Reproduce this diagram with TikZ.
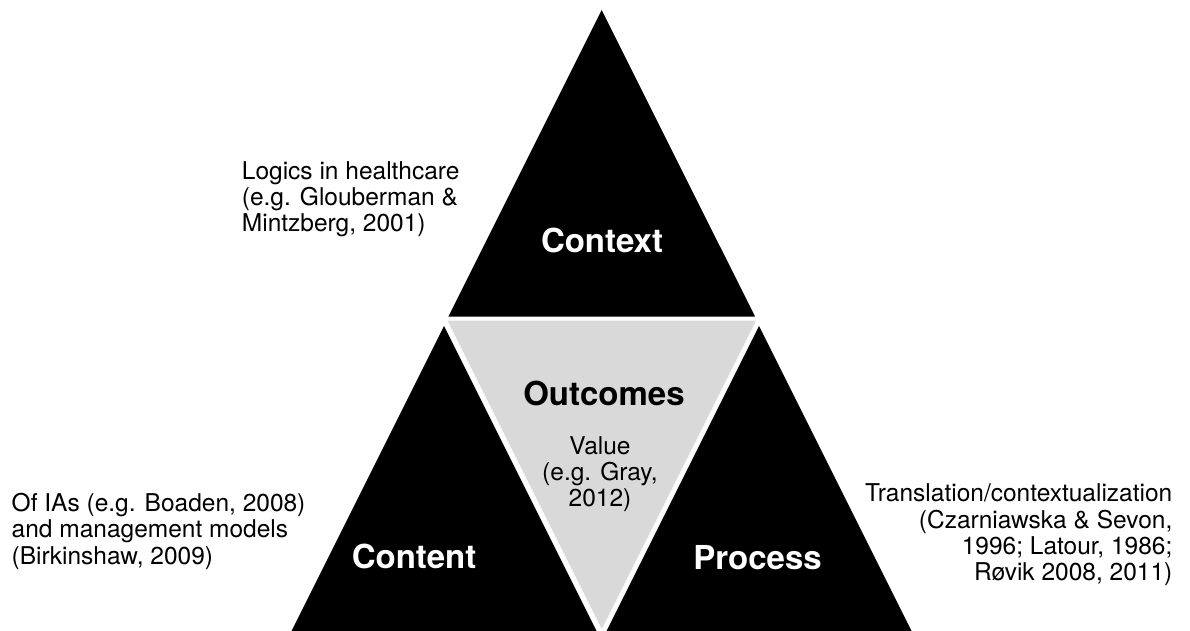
\documentclass[tikz,border=0pt]{standalone}
\usepackage{fontspec}
\setmainfont{TeX Gyre Heros}

\begin{document}
\begin{tikzpicture}
[x=1pt,y=-1pt,
 bt/.style={fill=black},
 gt/.style={fill=black!15},
 hd/.style={font=\fontsize{33}{36}\selectfont\bfseries,inner sep=0pt,anchor=base},
 lb/.style={font=\fontsize{24.5}{26.4}\selectfont,inner sep=0pt}]
\useasboundingbox (0,0) rectangle (1190,631);
\coordinate (T) at (601.7,10);
\path (T) +(-153.4,306.7) coordinate (TL);
\path (T) +(153.4,306.7) coordinate (TR);
\coordinate (G) at (601.85,629);
\path (G) +(-154.15,-308.3) coordinate (GL);
\path (G) +(154.15,-308.3) coordinate (GR);
\coordinate (L) at (444,326);
\path (L) +(-156,312) coordinate (LL);
\path (L) +(156,312) coordinate (LR);
\coordinate (R) at (759,326);
\path (R) +(-156,312) coordinate (RL);
\path (R) +(156,312) coordinate (RR);

\fill[bt] (T) -- (TL) -- (TR) -- cycle;
\fill[gt] (G) -- (GL) -- (GR) -- cycle;
\fill[bt] (L) -- (LL) -- (LR) -- cycle;
\fill[bt] (R) -- (RL) -- (RR) -- cycle;

\node[hd,text=white] (context) at (602,252) {Context};
\node[hd] (outcomes) at (604,405) {Outcomes};
\node[hd,text=white] (content) at (414,568) {Content};
\node[hd,text=white] (process) at (757.5,569) {Process};

\node[lb,align=left,anchor=north west] (logics) at (241.7,161)
  {Logics in healthcare\\(e.g. Glouberman \&\\Mintzberg, 2001)};
\node[lb,align=center,anchor=north] (value) at (600,436)
  {Value\\(e.g. Gray,\\2012)};
\node[lb,align=left,anchor=north west] (models) at (11.5,492.7)
  {Of IAs (e.g. Boaden, 2008)\\and management models\\(Birkinshaw, 2009)};
\node[lb,align=right,anchor=north east] (transl) at (1172.5,483.7)
  {Translation/contextualization\\(Czarniawska \& Sevon,\\1996; Latour, 1986;\\Røvik 2008, 2011)};

\end{tikzpicture}
\end{document}
